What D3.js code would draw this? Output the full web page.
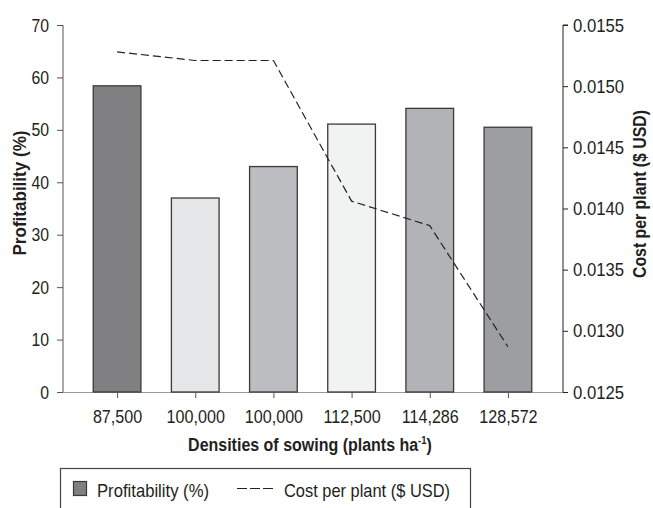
<!DOCTYPE html>
<html><head><meta charset="utf-8">
<script src="https://cdn.jsdelivr.net/npm/d3@7/dist/d3.min.js"></script>
<style>
body{margin:0;background:#fff;}
svg text{font-family:"Liberation Sans Narrow","Arial Narrow","Liberation Sans",sans-serif;fill:#231f20;}
</style></head>
<body><svg id="c" width="653" height="508"></svg>
<script>
const categories = ["87,500","100,000","100,000","112,500","114,286","128,572"];
const profitability = [58.4, 37.0, 43.0, 51.1, 54.1, 50.5];
const costPerPlant = [0.01528, 0.01521, 0.01521, 0.01406, 0.01386, 0.01287];
const barColors = ["#808083","#e6e7e8","#bcbdc0","#f1f2f2","#b2b3b6","#9d9ea1"];
const leftTicks = [0,10,20,30,40,50,60,70];
const rightTicks = [0.0125,0.0130,0.0135,0.0140,0.0145,0.0150,0.0155];

const svg = d3.select("#c");
const L = 63, R = 563, T = 25, B = 392;
const x = d3.scaleBand().domain(d3.range(categories.length)).range([78, 547]).paddingInner(0.39).paddingOuter(0.195);
const y = d3.scaleLinear().domain([0,70]).range([B,T]);
const y2 = d3.scaleLinear().domain([0.0125,0.0155]).range([B,T]);

function squeeze(sel, ratio){
  sel.each(function(){
    const w = this.getComputedTextLength();
    this.setAttribute("textLength", (w*ratio).toFixed(2));
    this.setAttribute("lengthAdjust","spacingAndGlyphs");
  });
}
function fitTo(sel, target){
  sel.each(function(){
    this.setAttribute("textLength", target);
    this.setAttribute("lengthAdjust","spacingAndGlyphs");
  });
}

// x baseline
svg.append("line").attr("x1",L).attr("x2",R).attr("y1",B+0.5).attr("y2",B+0.5).attr("stroke","#9a9a9a").attr("stroke-width",1);

// bars
svg.selectAll("rect.bar").data(profitability).join("rect")
  .attr("x",(d,i)=>x(i)).attr("width",x.bandwidth())
  .attr("y",d=>y(d)).attr("height",d=>B-y(d))
  .attr("fill",(d,i)=>barColors[i]).attr("stroke","#3a3a3a").attr("stroke-width",1.3);

// x ticks
const xa = svg.append("g").attr("transform",`translate(0,${B})`)
  .call(d3.axisBottom(d3.scalePoint().domain(d3.range(categories.length)).range([x(0)+x.bandwidth()/2, x(5)+x.bandwidth()/2]))
  .tickSize(6).tickPadding(12).tickFormat(i=>categories[i]));
xa.select(".domain").remove();
xa.selectAll("line").attr("stroke","#555");
xa.selectAll("text").attr("font-size",19).attr("fill","#231f20");
squeeze(xa.selectAll("text"), 0.85);

// left axis
const la = svg.append("g").attr("transform",`translate(${L},0)`)
  .call(d3.axisLeft(y).tickValues(leftTicks).tickSize(6).tickPadding(8));
la.select(".domain").attr("stroke","#555").attr("d",`M0,${T}V${B}`);
la.selectAll("line").attr("stroke","#555");
la.selectAll("text").attr("font-size",19).attr("fill","#231f20");
squeeze(la.selectAll("text"), 0.83);

// right axis
const ra = svg.append("g").attr("transform",`translate(${R},0)`)
  .call(d3.axisRight(y2).tickValues(rightTicks).tickSize(5).tickPadding(5).tickFormat(d3.format(".4f")));
ra.select(".domain").attr("stroke","#222").attr("d",`M5,${T}H0V${B}`);
ra.selectAll("line").attr("stroke","#222");
ra.selectAll("text").attr("font-size",19).attr("fill","#231f20");
squeeze(ra.selectAll("text"), 0.88);

// line
const line = d3.line().x((d,i)=>x(i)+x.bandwidth()/2).y(d=>y2(d));
svg.append("path").datum(costPerPlant).attr("d",line).attr("fill","none")
  .attr("stroke","#222").attr("stroke-width",1.2).attr("stroke-dasharray","8,4");

// axis titles
const lt = svg.append("text").attr("transform",`translate(26,193) rotate(-90)`).attr("text-anchor","middle")
  .attr("font-weight","bold").attr("font-size",18).text("Profitability (%)");
fitTo(lt, 125);
const rt = svg.append("text").attr("transform",`translate(646,194) rotate(-90)`).attr("text-anchor","middle")
  .attr("font-weight","bold").attr("font-size",18).text("Cost per plant ($ USD)");
fitTo(rt, 168);
const xg = svg.append("g").attr("transform","translate(310,451)");
const xt = xg.append("text").attr("x",0).attr("y",0).attr("text-anchor","middle")
  .attr("font-weight","bold").attr("font-size",18.5);
xt.append("tspan").text("Densities of sowing (plants ha");
xt.append("tspan").attr("font-size",11).attr("dy",-7).text("-1");
xt.append("tspan").attr("dy",7).text(")");
const xw = xt.node().getBBox().width;
xg.attr("transform",`translate(310,451) scale(${244/xw},1)`);

// legend
const lg = svg.append("g");
lg.append("rect").attr("x",60.5).attr("y",468.5).attr("width",410).attr("height",50).attr("fill","none").attr("stroke","#444").attr("stroke-width",1.2);
lg.append("rect").attr("x",73.5).attr("y",481.5).attr("width",13).attr("height",14).attr("fill",barColors[0]).attr("stroke","#3a3a3a").attr("stroke-width",1.2);
const l1 = lg.append("text").attr("x",97).attr("y",497).attr("font-size",19).text("Profitability (%)");
fitTo(l1, 112);
lg.append("line").attr("x1",237).attr("x2",273).attr("y1",488.5).attr("y2",488.5).attr("stroke","#222").attr("stroke-width",1.2).attr("stroke-dasharray","10,3");
const l2 = lg.append("text").attr("x",284).attr("y",497).attr("font-size",19).text("Cost per plant ($ USD)");
fitTo(l2, 166);
</script></body></html>
